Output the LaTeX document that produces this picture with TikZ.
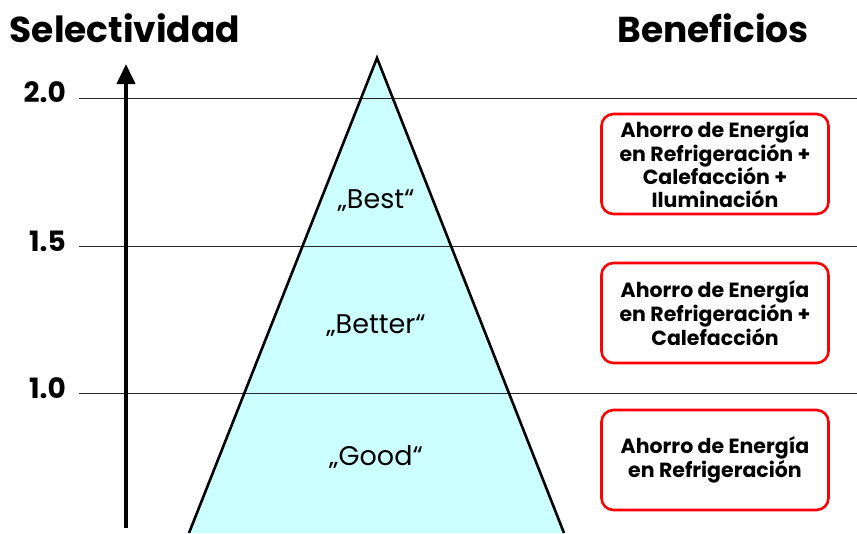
\documentclass[tikz,border=0pt]{standalone}
\usepackage{fontspec}
\setmainfont{Poppins}
\usepackage{xcolor}
\usetikzlibrary{arrows.meta, positioning}
\definecolor{pyramidfill}{HTML}{CCFFFF}
\tikzstyle{heading} = [font=\bfseries\fontsize{36}{40}\selectfont, inner sep=0pt]
\tikzstyle{level} = [font=\bfseries\fontsize{28}{32}\selectfont, anchor=east, inner sep=0pt]
\tikzstyle{grade} = [font=\fontsize{27}{31}\selectfont, anchor=base, inner sep=0pt]
\tikzstyle{benefit} = [rectangle, draw=red, line width=2.6pt, rounded corners=12pt, minimum width=227pt, minimum height=100pt, align=center, inner sep=0pt, font=\bfseries\fontsize{20.5}{22.5}\selectfont]
\tikzstyle{gridline} = [line width=0.9pt, black!85]
\tikzstyle{arrow} = [-{Triangle[length=20pt, width=18pt]}, line width=4pt]

\begin{document}
\begin{tikzpicture}[x=1pt, y=-1pt]
\useasboundingbox (0,0) rectangle (857,533);

% headings
\node[heading] (selectividad) at (125,28) {Selectividad};
\node[heading] (beneficios) at (713,28) {Beneficios};

% pyramid
\coordinate (apex) at (377,58);
\coordinate (baseleft) at (189,533);
\coordinate (baseright) at (564,533);
\fill[pyramidfill] (apex) -- (baseleft) -- (baseright) -- cycle;

% selectivity levels
\node[level] (lvl20) at (66,92) {2.0};
\node[level] (lvl15) at (66,241) {1.5};
\node[level] (lvl10) at (66,388) {1.0};
\draw[gridline] (79,98) -- (857,98);
\draw[gridline] (79,246) -- (857,246);
\draw[gridline] (79,393) -- (857,393);

\draw[line width=2.6pt, line join=miter] (baseleft) -- (apex) -- (baseright);

% axis
\coordinate (axisbottom) at (126,528);
\coordinate (axistop) at (126,64);
\draw[arrow] (axisbottom) -- (axistop);

% grades
\node[grade] (best) at (376,208) {„Best“};
\node[grade] (better) at (376,333) {„Better“};
\node[grade] (good) at (376,465) {„Good“};

% benefits
\node[benefit] (benefit3) at (715,164) {Ahorro de Energía\\en Refrigeración +\\Calefacción +\\Iluminación};
\node[benefit] (benefit2) at (715,313) {Ahorro de Energía\\en Refrigeración +\\Calefacción};
\node[benefit] (benefit1) at (715,460) {Ahorro de Energía\\en Refrigeración};

\end{tikzpicture}
\end{document}
